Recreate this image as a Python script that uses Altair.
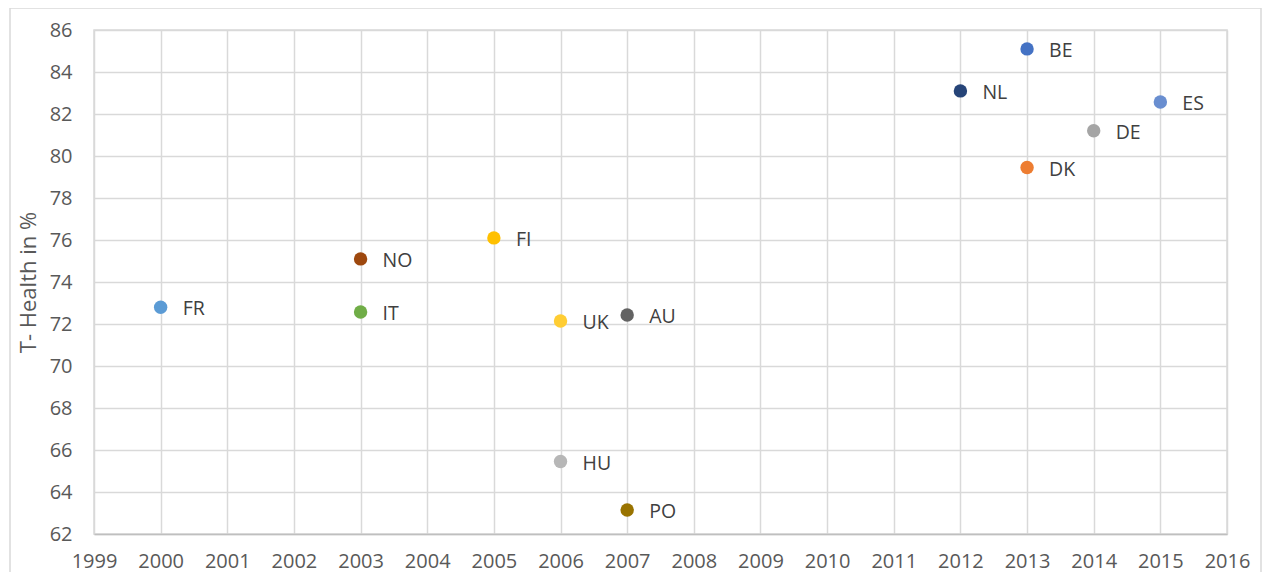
import altair as alt
import pandas as pd

countries = ["FR", "IT", "NO", "FI", "UK", "HU", "AU", "PO", "NL", "BE", "DK", "DE", "ES"]
years = [2000, 2003, 2003, 2005, 2006, 2006, 2007, 2007, 2012, 2013, 2013, 2014, 2015]
health = [72.8, 72.57, 75.1, 76.1, 72.14, 65.45, 72.43, 63.14, 83.1, 85.1, 79.45, 81.2, 82.57]
colors = ["#5B9BD5", "#70AD47", "#9E480E", "#FFC000", "#FFCD33", "#B7B7B7", "#636363",
          "#997300", "#264478", "#4472C4", "#ED7D31", "#A5A5A5", "#698ED0"]

x_ticks = list(range(1999, 2017))
y_ticks = list(range(62, 87, 2))

df = pd.DataFrame({"country": countries, "year": years, "health": health, "color": colors})

FONT = "Open Sans"

x_enc = alt.X("year:Q", scale=alt.Scale(domain=[1999, 2016], nice=False, zero=False),
              axis=alt.Axis(values=x_ticks, format="d", title=None, labelFontSize=20,
                            labelColor="#595959", labelFont=FONT, labelPadding=17,
                            ticks=False, domainColor="#BFBFBF", domainWidth=1.5,
                            gridColor="#D9D9D9", gridWidth=1.5, labelFlush=False))
y_enc = alt.Y("health:Q", scale=alt.Scale(domain=[62, 86], nice=False, zero=False),
              axis=alt.Axis(values=y_ticks, title="T- Health in %", titleFontSize=22,
                            titleFont=FONT, titleColor="#595959", titleFontWeight="normal",
                            titlePadding=9, labelFontSize=20, labelColor="#595959",
                            labelFont=FONT, labelPadding=22, ticks=False, domain=False,
                            gridColor="#D9D9D9", gridWidth=1.5))

points = alt.Chart(df).mark_circle(size=180, opacity=1).encode(
    x=x_enc, y=y_enc,
    color=alt.Color("color:N", scale=None),
)

labels = alt.Chart(df).mark_text(align="left", baseline="middle", dx=22, dy=2,
                                 fontSize=19.5, font=FONT, color="#404040").encode(
    x="year:Q", y="health:Q", text="country:N"
)

border = alt.Chart(pd.DataFrame({"a": [0]})).mark_rect(
    fill=None, stroke="#D9D9D9", strokeWidth=1.5, clip=False
).encode(
    x=alt.value(-84), x2=alt.value(1167), y=alt.value(-22), y2=alt.value(600)
)

chart = alt.layer(border, points, labels).properties(
    width=1133, height=504,
    autosize=alt.AutoSizeParams(type="none"),
    padding={"left": 86, "top": 22, "right": 36, "bottom": 38},
).configure_view(stroke="#D9D9D9", strokeWidth=1.5)

chart.save("out.html", embed_options={"renderer": "svg", "actions": False})
